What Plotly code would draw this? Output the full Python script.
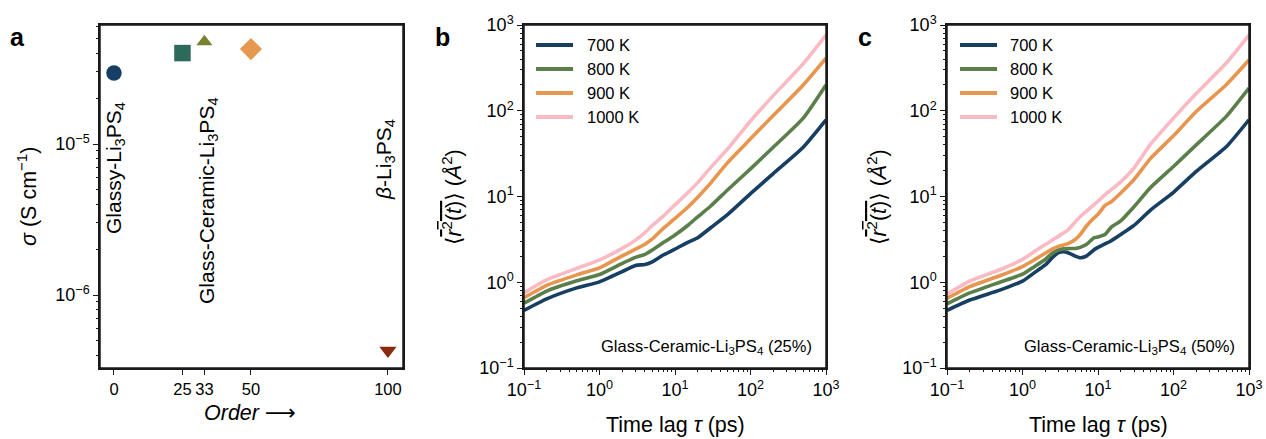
import plotly.graph_objects as go

# ---------------- data ----------------
# panel a
order = [0, 25, 33, 50, 100]
sigma = [2.95e-5, 4.0e-5, 4.75e-5, 4.25e-5, 4.3e-7]
marker_symbols = ["circle", "square", "triangle-up", "diamond", "triangle-down"]
marker_colors = ["#173f66", "#2e6a5a", "#7b8031", "#e5994f", "#8a2a0e"]
marker_sizes = [15.5, 16.5, 14, 17, 15]

# panel b (Glass-Ceramic 25%)
t_b = [0.1, 0.2, 0.5, 1, 2, 3, 4, 5, 7, 10, 15, 20, 30, 50, 100, 200, 500, 1000]
b700 = [0.47, 0.64, 0.86, 1.01, 1.33, 1.57, 1.61, 1.73, 2.08, 2.43, 2.94, 3.3, 4.35, 6.2, 10.8, 18.5, 37.5, 78]
b800 = [0.57, 0.79, 1.04, 1.23, 1.66, 1.95, 2.12, 2.38, 2.9, 3.55, 4.65, 5.8, 7.8, 12, 21, 37.5, 82, 200]
b900 = [0.66, 0.92, 1.22, 1.47, 2.03, 2.43, 2.78, 3.2, 4.25, 5.55, 7.6, 9.8, 14.5, 25, 47, 88, 200, 410]
b1000 = [0.75, 1.07, 1.45, 1.82, 2.48, 3.1, 3.8, 4.6, 5.9, 8.0, 11.2, 14.5, 22, 36, 76, 150, 355, 764]

# panel c (Glass-Ceramic 50%)
t_c = [0.1, 0.2, 0.5, 1, 1.4, 2, 2.5, 3, 3.5, 4, 5, 5.8, 7, 8.8, 10, 12.4, 15, 20, 30, 50, 100, 200, 500, 1000]
c700 = [0.47, 0.62, 0.81, 1.03, 1.27, 1.59, 1.95, 2.21, 2.27, 2.21, 2.02, 1.93, 2.02, 2.38, 2.55, 2.8, 3.05, 3.6, 4.6, 7.0, 11.2, 19.6, 38, 78.5]
c800 = [0.56, 0.75, 1.0, 1.24, 1.5, 1.84, 2.2, 2.38, 2.45, 2.47, 2.48, 2.55, 2.75, 3.3, 3.38, 3.6, 4.4, 5.2, 7.6, 12.8, 22.4, 40, 86, 184]
c900 = [0.65, 0.89, 1.19, 1.52, 1.8, 2.18, 2.45, 2.62, 2.72, 2.82, 3.15, 3.6, 4.5, 5.6, 6.2, 7.9, 8.7, 11, 15.8, 28, 51, 98, 201, 390]
c1000 = [0.73, 1.03, 1.4, 1.85, 2.25, 2.75, 3.1, 3.45, 3.75, 4.07, 5.05, 5.8, 6.7, 8.0, 8.8, 10.5, 12, 14.8, 21.5, 41, 82, 159, 360, 764]

temps = ["700 K", "800 K", "900 K", "1000 K"]
line_colors = ["#173f62", "#5b7f4a", "#e8964f", "#f9bac3"]

# tick labels
log_tickvals = [0.1, 1, 10, 100, 1000]
log_ticktext = ["10<sup>−1</sup>", "10<sup>0</sup>", "10<sup>1</sup>", "10<sup>2</sup>", "10<sup>3</sup>"]
sig_tickvals = [1e-6, 1e-5]
sig_ticktext = ["10<sup>−6</sup>", "10<sup>−5</sup>"]

# minor tick positions (axis decoration)
minor_log = [m * 10.0 ** k for k in (-1, 0, 1, 2) for m in range(2, 10)]
minor_sig = [m * 10.0 ** k for k in (-7, -6, -5) for m in range(2, 10)]

FONT = "Liberation Sans, Arial, DejaVu Sans, sans-serif"
AX = "#1a1a1a"
W, H = 1266, 439

# subplot domains (layout)
DOM_A = [100 / W, 403 / W]
DOM_B = [524 / W, 826 / W]
DOM_C = [947 / W, 1249 / W]
YDOM = [1 - 368 / H, 1 - 25 / H]

fig = go.Figure()

# panel a markers
for xo, s, sym, col, sz in zip(order, sigma, marker_symbols, marker_colors, marker_sizes):
    fig.add_trace(go.Scatter(x=[xo], y=[s], mode="markers", showlegend=False,
                             marker=dict(symbol=sym, color=col, size=sz, line=dict(width=0)),
                             xaxis="x", yaxis="y"))

# panels b and c
for ys, name, col in zip([b700, b800, b900, b1000], temps, line_colors):
    fig.add_trace(go.Scatter(x=t_b, y=ys, mode="lines", name=name, showlegend=False,
                             line=dict(color=col, width=3.6, shape="spline", smoothing=0.5),
                             xaxis="x2", yaxis="y2"))
for ys, name, col in zip([c700, c800, c900, c1000], temps, line_colors):
    fig.add_trace(go.Scatter(x=t_c, y=ys, mode="lines", name=name, showlegend=False,
                             line=dict(color=col, width=3.6, shape="spline", smoothing=0.5),
                             xaxis="x3", yaxis="y3"))

# empty traces that bind the minor-tick overlay axes
for xa, ya in [("x", "y4"), ("x5", "y2"), ("x2", "y5"), ("x6", "y3"), ("x3", "y6")]:
    fig.add_trace(go.Scatter(x=[], y=[], xaxis=xa, yaxis=ya, showlegend=False, hoverinfo="skip"))

common_line = dict(showline=True, mirror=True, linecolor=AX, linewidth=1.5, showgrid=False,
                   zeroline=False, ticks="outside", ticklen=5, tickwidth=1.3, tickcolor=AX,
                   automargin=False, tickangle=0)


def minor_axis(overlay, anchor, rng, vals):
    return dict(overlaying=overlay, anchor=anchor, type="log", range=rng, tickmode="array",
                tickvals=vals, ticks="outside", ticklen=3, tickwidth=1.1, tickcolor=AX,
                showticklabels=False, showline=False, showgrid=False, zeroline=False,
                automargin=False)


logfont = dict(family=FONT, size=18, color="black")
logax = dict(type="log", range=[-1, 3], tickmode="array", tickvals=log_tickvals,
             ticktext=log_ticktext, tickfont=logfont, **common_line)
fig.update_layout(
    width=W, height=H, margin=dict(l=0, r=0, t=0, b=0, autoexpand=False),
    paper_bgcolor="white", plot_bgcolor="white", showlegend=False,
    font=dict(family=FONT, size=16, color="black"),
    xaxis=dict(domain=DOM_A, range=[-5.1, 105.5], tickmode="array",
               tickvals=order, ticktext=[str(o) for o in order], anchor="y",
               tickfont=dict(family=FONT, size=16.5, color="black"), **common_line),
    yaxis=dict(domain=YDOM, type="log", range=[-6.483, -4.212], tickmode="array",
               tickvals=sig_tickvals, ticktext=sig_ticktext, anchor="x",
               tickfont=logfont, **common_line),
    xaxis2=dict(domain=DOM_B, anchor="y2", **logax),
    yaxis2=dict(domain=YDOM, anchor="x2", **logax),
    xaxis3=dict(domain=DOM_C, anchor="y3", **logax),
    yaxis3=dict(domain=YDOM, anchor="x3", **logax),
    yaxis4=minor_axis("y", "x", [-6.483, -4.212], minor_sig),
    xaxis5=minor_axis("x2", "y2", [-1, 3], minor_log),
    yaxis5=minor_axis("y2", "x2", [-1, 3], minor_log),
    xaxis6=minor_axis("x3", "y3", [-1, 3], minor_log),
    yaxis6=minor_axis("y3", "x3", [-1, 3], minor_log),
)

# plot frames (axes boxes), in paper coordinates taken from the subplot domains
shapes = []
for dom in [DOM_A, DOM_B, DOM_C]:
    shapes.append(dict(type="rect", xref="paper", yref="paper", x0=dom[0], x1=dom[1],
                       y0=YDOM[0], y1=YDOM[1], line=dict(color=AX, width=1.5),
                       fillcolor="rgba(0,0,0,0)", layer="above"))

ann = []


def paper_text(text, px, py, size, angle=0, xanchor="center"):
    ann.append(dict(text=text, x=px / W, y=1 - py / H, xref="paper", yref="paper",
                    xanchor=xanchor, yanchor="middle", textangle=angle, showarrow=False,
                    font=dict(family=FONT, size=size, color="black")))


# legends (key lines + labels) for panels b and c
for x_line0, x_text in [(536, 585), (960, 1008)]:
    for i, (name, col) in enumerate(zip(temps, line_colors)):
        yy = 45 + 24 * i
        shapes.append(dict(type="line", xref="paper", yref="paper",
                           x0=x_line0 / W, x1=(x_line0 + 37) / W, y0=1 - yy / H, y1=1 - yy / H,
                           line=dict(color=col, width=4)))
        paper_text(name, x_text, yy, 16.5, xanchor="left")

# panel letters
for letter, px in [("a", 17), ("b", 442), ("c", 865)]:
    paper_text("<b>%s</b>" % letter, px, 37, 25)

# panel a labels
for txt, xv, yv in [("Glassy-Li<sub>3</sub>PS<sub>4</sub>", 0.3, -5.16),
                    ("Glass-Ceramic-Li<sub>3</sub>PS<sub>4</sub>", 34.3, -5.371),
                    ("<i>β</i>-Li<sub>3</sub>PS<sub>4</sub>", 98.9, -5.099)]:
    ann.append(dict(text=txt, x=xv, y=yv, xref="x", yref="y", xanchor="center", yanchor="middle",
                    textangle=-90, showarrow=False, font=dict(family=FONT, size=21, color="black")))

# axis titles
paper_text("<i>σ</i> (S cm<sup>−1</sup>)", 27, 197, 21.5, angle=-90)
paper_text("<i>Order</i> ⟶", 250, 413, 21.5)
ytitle = ("⟨<span style='text-decoration:overline'><i>r</i><sup>2</sup>(<i>t</i>)</span>⟩ "
          "(<i>Å</i><sup>2</sup>)")
for px in [452, 877]:
    paper_text(ytitle, px, 197, 21.5, angle=-90)
for px in [675, 1098]:
    paper_text("Time lag <i>τ</i> (ps)", px, 425, 21.5)

# inset labels
paper_text("Glass-Ceramic-Li<sub>3</sub>PS<sub>4</sub> (25%)", 814, 347, 16.5, xanchor="right")
paper_text("Glass-Ceramic-Li<sub>3</sub>PS<sub>4</sub> (50%)", 1237, 347, 16.5, xanchor="right")

fig.update_layout(annotations=ann, shapes=shapes)
fig.write_html("out.html")
